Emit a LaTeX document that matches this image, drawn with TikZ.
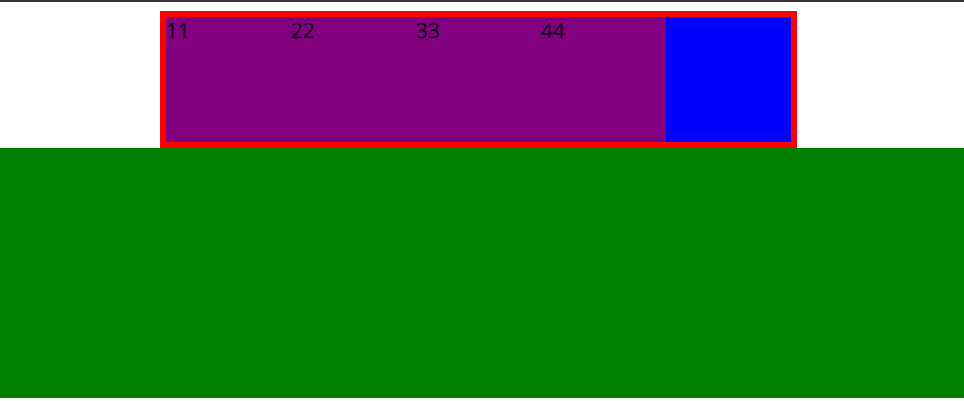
\documentclass[tikz,border=0pt]{standalone}
\usepackage{fontspec}
\setmainfont{Open Sans}
\usepackage{tikz}
\usetikzlibrary{positioning}
\definecolor{marco}{HTML}{FF0000}
\definecolor{morado}{HTML}{800080}
\definecolor{azul}{HTML}{0000FF}
\definecolor{suelo}{HTML}{008000}
\definecolor{raya}{HTML}{333333}

\begin{document}
\begin{tikzpicture}[x=1pt,y=-1pt,
  font=\fontsize{21}{24}\selectfont,
  caja/.style={draw=none,inner sep=0pt,outer sep=0pt,anchor=north west},
  celda/.style={inner sep=0pt,outer sep=0pt,anchor=base west,text=black}]
\useasboundingbox (0,0) rectangle (964,400);
\fill[white] (0,0) rectangle (964,400);
\node[caja,fill=raya,minimum width=964pt,minimum height=1.5pt] (tope) at (0,0) {};
\node[caja,fill=suelo,minimum width=964pt,minimum height=250pt] (base) at (0,148) {};
\node[caja,fill=marco,minimum width=637pt,minimum height=137pt] (marco) at (160,11) {};
\node[caja,fill=morado,minimum width=500pt,minimum height=125pt] (relleno) at (166,17) {};
\node[caja,fill=azul,minimum width=125pt,minimum height=125pt,right=0pt of relleno.north east,anchor=north west] (bloque) {};
\foreach \n [count=\i from 0] in {11,22,33,44}
  \node[celda] (c\n) at (166+125*\i,38.5) {\n};
\end{tikzpicture}
\end{document}
